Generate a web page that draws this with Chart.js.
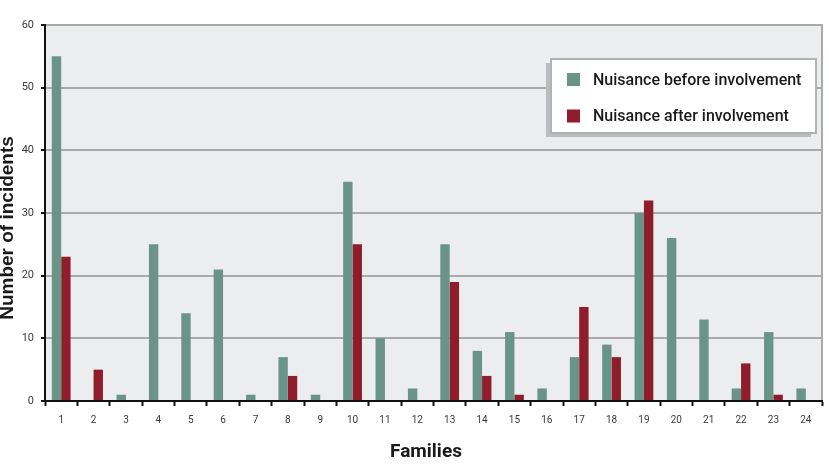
<!DOCTYPE html>
<html>
<head>
<meta charset="utf-8">
<script src="https://cdn.jsdelivr.net/npm/chart.js@4"></script>
<style>
  html, body { margin: 0; padding: 0; background: #fff; }
</style>
</head>
<body>
<canvas id="chart" width="829" height="470"></canvas>
<script>
// Data
const families = ['1','2','3','4','5','6','7','8','9','10','11','12','13','14','15','16','17','18','19','20','21','22','23','24'];
const beforeValues = [55, 0, 1, 25, 14, 21, 1, 7, 1, 35, 10, 2, 25, 8, 11, 2, 7, 9, 30, 26, 13, 2, 11, 2];
const afterValues  = [23, 5, 0, 0, 0, 0, 0, 4, 0, 25, 0, 0, 19, 4, 1, 0, 15, 7, 32, 0, 0, 6, 1, 0];
const yTicks = [0, 10, 20, 30, 40, 50, 60];
const seriesLabels = ['Nuisance before involvement', 'Nuisance after involvement'];
const seriesColors = ['#6a9488', '#8f1d2b'];
const xTitle = 'Families';
const yTitle = 'Number of incidents';

// grey plot background + right border
const plotFrame = {
    id: 'plotFrame',
    beforeDraw(chart) {
        const {ctx, chartArea: a} = chart;
        ctx.save();
        ctx.fillStyle = '#ebedee';
        ctx.fillRect(a.left, a.top, a.right - a.left, a.bottom - a.top);
        ctx.strokeStyle = '#a9abab';
        ctx.lineWidth = 2;
        ctx.beginPath();
        ctx.moveTo(a.right, a.top - 1);
        ctx.lineTo(a.right, a.bottom);
        ctx.stroke();
        ctx.restore();
    }
};

// boxed legend with a drop shadow, inside the plot
const boxLegend = {
    id: 'boxLegend',
    afterDraw(chart) {
        const ctx = chart.ctx;
        const x = 551, y = 59, w = 265, h = 74;
        ctx.save();
        ctx.fillStyle = '#b9bdbe';
        ctx.fillRect(x - 5, y + 4, w, h);     // shadow
        ctx.fillStyle = '#ffffff';
        ctx.fillRect(x, y, w, h);
        ctx.strokeStyle = '#b0b3b4';
        ctx.lineWidth = 2;
        ctx.strokeRect(x, y, w, h);
        ctx.font = '500 16px Roboto';
        ctx.textBaseline = 'middle';
        chart.data.datasets.forEach((ds, i) => {
            const cy = 79.5 + i * 36.5;
            ctx.fillStyle = ds.backgroundColor;
            ctx.fillRect(567, cy - 6.5, 13, 13);
            ctx.fillStyle = '#1a1a1a';
            ctx.fillText(ds.label, 593, cy + 1);
        });
        ctx.restore();
    }
};

// axis titles
const axisTitles = {
    id: 'axisTitles',
    afterDraw(chart) {
        const ctx = chart.ctx;
        ctx.save();
        ctx.fillStyle = '#1a1a1a';
        ctx.textAlign = 'center';
        ctx.textBaseline = 'alphabetic';
        ctx.font = 'bold 19px Roboto';
        ctx.fillText(xTitle, 426, 457);
        ctx.translate(12.5, 228);
        ctx.rotate(-Math.PI / 2);
        ctx.font = 'bold 19px "Liberation Sans", Arial, sans-serif';
        ctx.fillText(yTitle, 0, 0);
        ctx.restore();
    }
};

new Chart(document.getElementById('chart'), {
    type: 'bar',
    data: {
        labels: families,
        datasets: [
            {
                label: seriesLabels[0],
                data: beforeValues,
                backgroundColor: seriesColors[0],
                categoryPercentage: 0.58,
                barPercentage: 1.0
            },
            {
                label: seriesLabels[1],
                data: afterValues,
                backgroundColor: seriesColors[1],
                categoryPercentage: 0.58,
                barPercentage: 1.0
            }
        ]
    },
    options: {
        responsive: false,
        animation: false,
        layout: { padding: { top: 25, right: 7, left: 0, bottom: 0 } },
        plugins: {
            legend: { display: false },
            tooltip: { enabled: false }
        },
        scales: {
            x: {
                afterFit: (scale) => { scale.height = 69; },
                grid: {
                    drawOnChartArea: false,
                    offset: true,
                    tickColor: '#111',
                    tickLength: 5,
                    tickWidth: 2
                },
                border: { color: '#111', width: 2 },
                ticks: {
                    font: { family: 'Roboto', size: 10 },
                    color: '#3a3a3a',
                    padding: 8,
                    autoSkip: false,
                    maxRotation: 0
                }
            },
            y: {
                min: 0,
                max: 60,
                afterFit: (scale) => { scale.width = 45; },
                afterBuildTicks: (scale) => { scale.ticks = yTicks.map(v => ({ value: v })); },
                grid: {
                    color: (c) => (c.tick && c.tick.value === 0) ? 'rgba(0,0,0,0)' : '#a9abab',
                    lineWidth: 2,
                    tickColor: '#111',
                    tickLength: 4,
                    tickWidth: 2
                },
                border: { color: '#111', width: 2 },
                ticks: {
                    font: { family: 'Roboto', size: 11 },
                    color: '#3a3a3a',
                    padding: 7
                }
            }
        }
    },
    plugins: [plotFrame, boxLegend, axisTitles]
});
</script>
</body>
</html>
